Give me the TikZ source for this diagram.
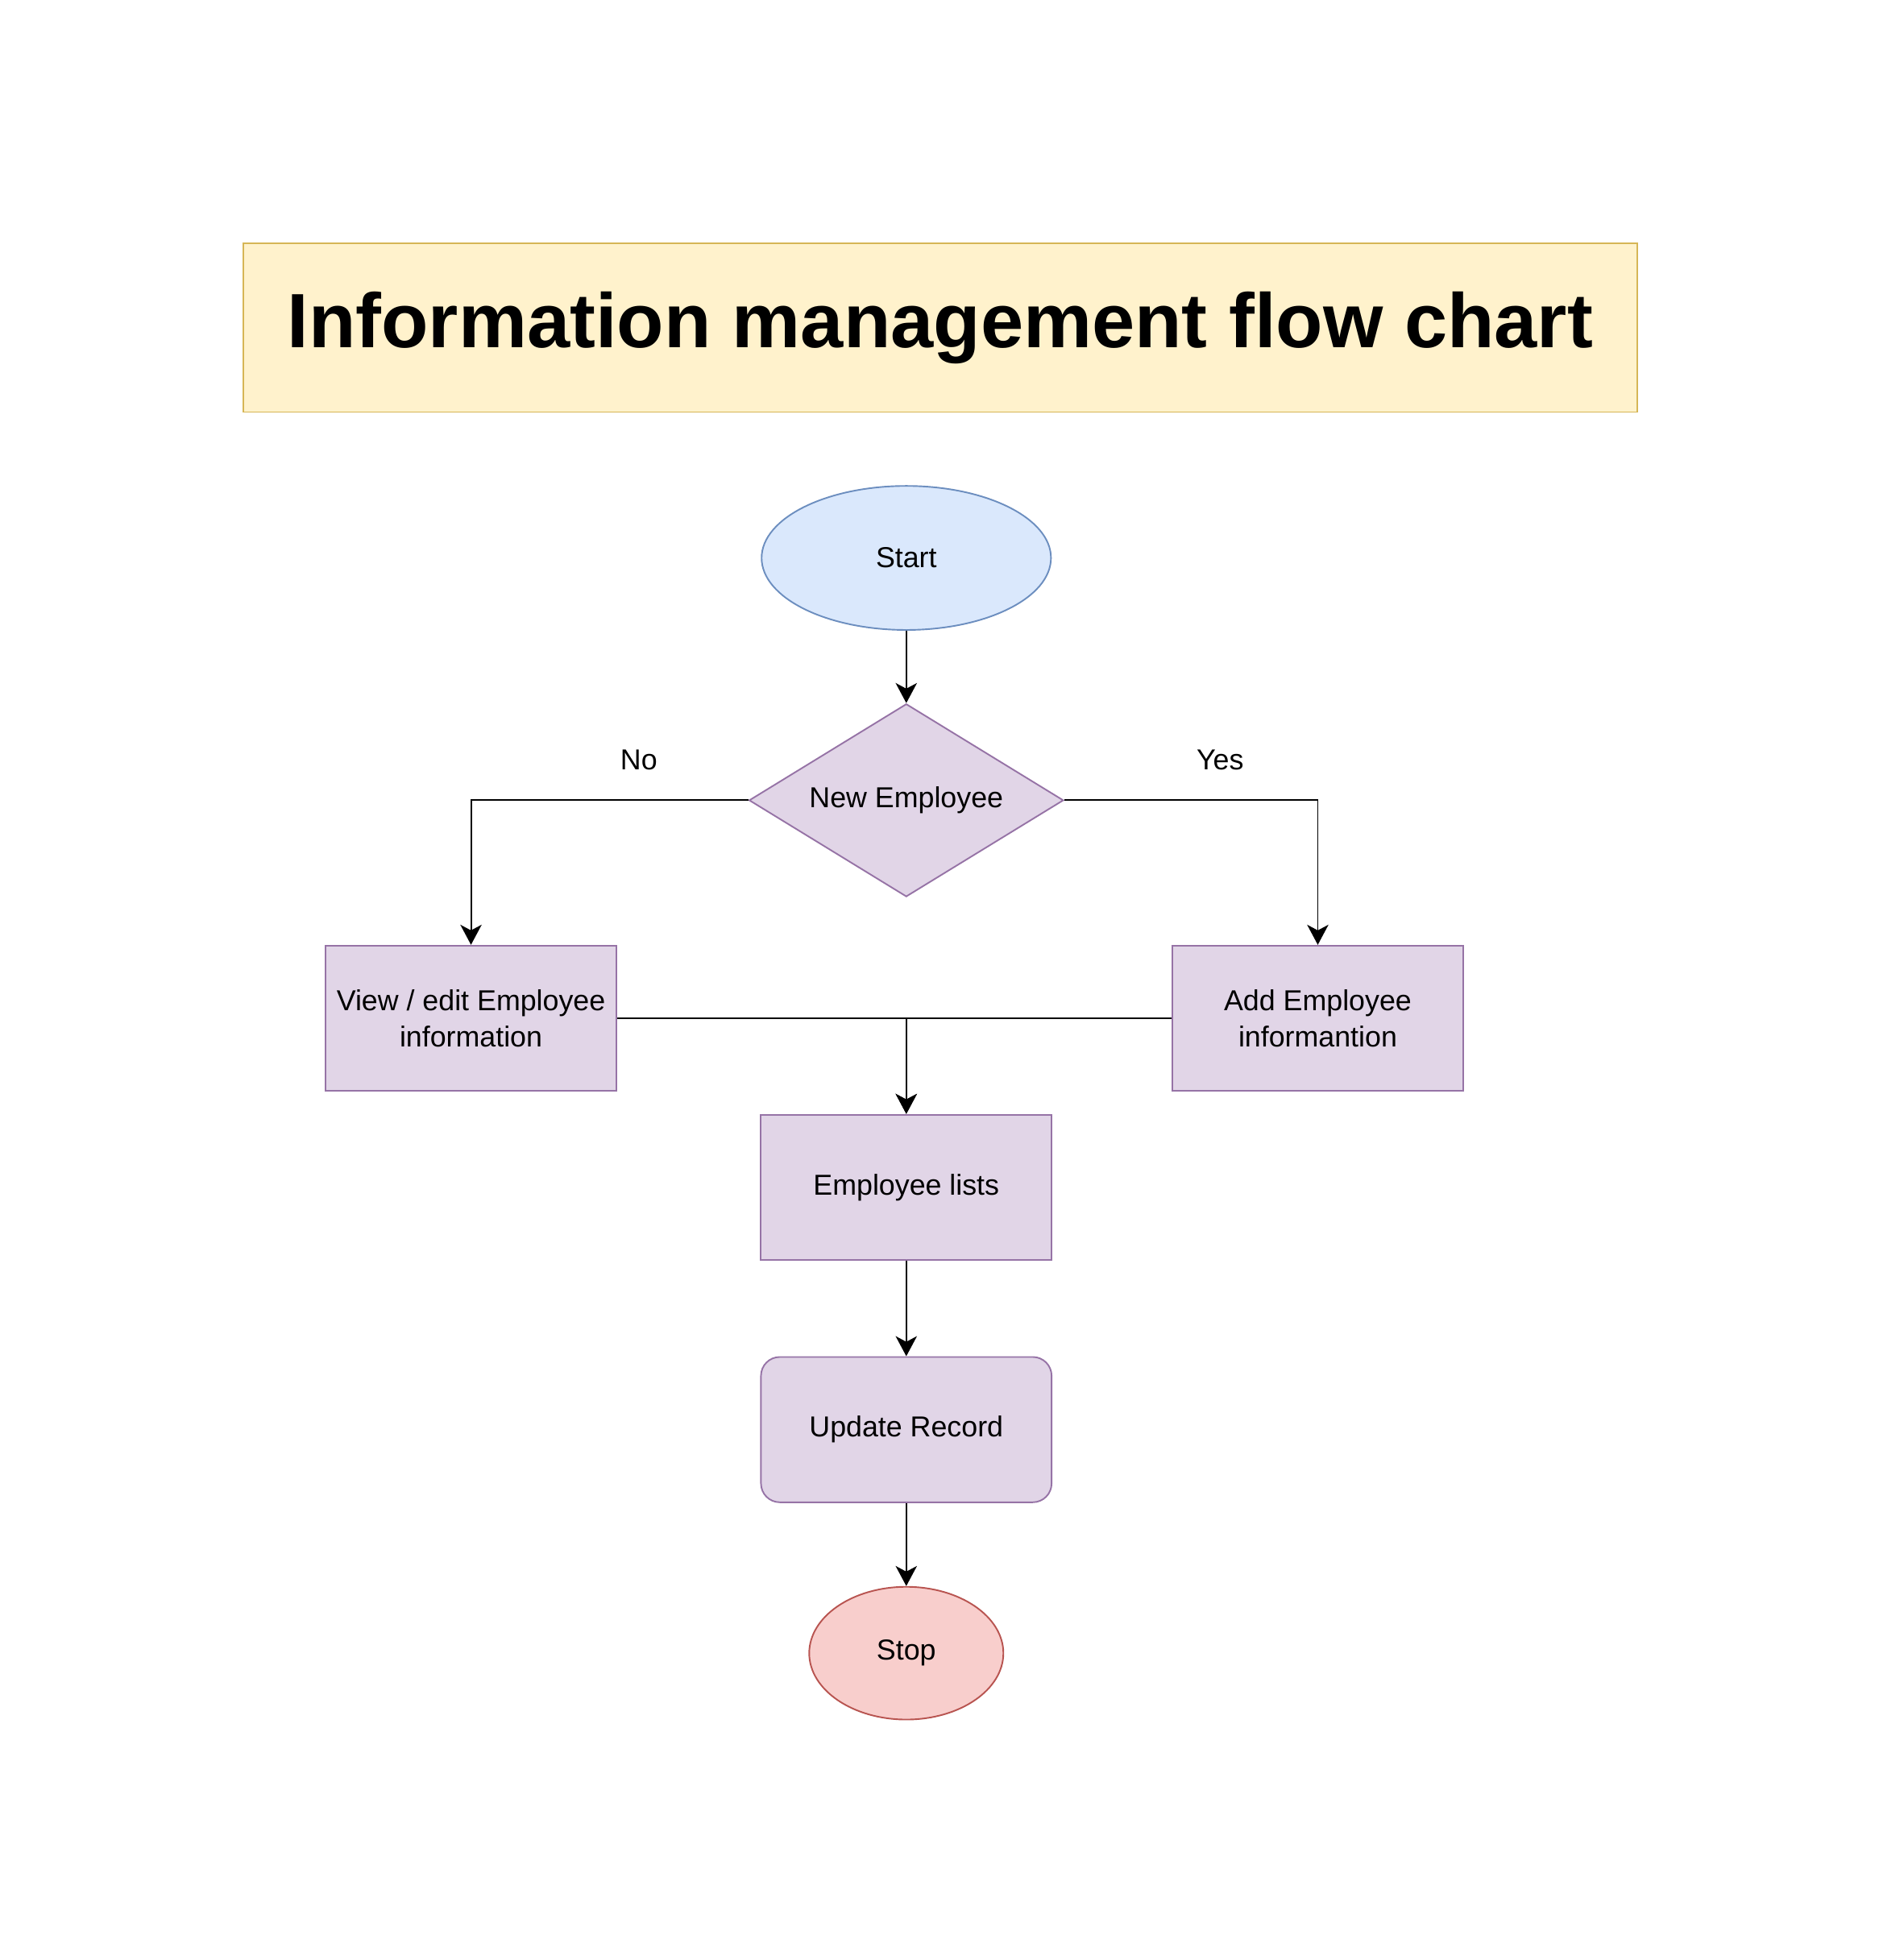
\documentclass[tikz,border=0pt]{standalone}
\usepackage{fontspec}
\setmainfont{Liberation Sans}
\usetikzlibrary{arrows.meta, shapes.geometric, positioning}

\definecolor{blueFill}{HTML}{DAE8FC}
\definecolor{blueLine}{HTML}{6C8EBF}
\definecolor{lilacFill}{HTML}{E1D5E7}
\definecolor{lilacLine}{HTML}{9673A6}
\definecolor{redFill}{HTML}{F8CECC}
\definecolor{redLine}{HTML}{B85450}
\definecolor{sandFill}{HTML}{FFF2CC}
\definecolor{sandLine}{HTML}{D6B656}

\begin{document}
\begin{tikzpicture}[
            > = {Stealth[length=3.2mm, width=3.4mm, inset=0.9mm]}, % arrow head style
            on grid, % distances between centres
            line width = 0.7pt % line style
        ]

        \tikzstyle{every node}=[
            font = \fontsize{13.1}{16.5}\selectfont,
            align = center,
            inner sep = 0pt
        ]
        \tikzstyle{box}=[
            draw = lilacLine,
            fill = lilacFill,
            rectangle,
            minimum width = 4.64cm,
            minimum height = 2.32cm
        ]
        \tikzstyle{terminal}=[
            ellipse
        ]

        \useasboundingbox (0,0) rectangle (30,-31.3);

        \node[draw = sandLine, fill = sandFill, minimum width = 22.26cm, minimum height = 2.7cm,
              font = \fontsize{35}{42}\selectfont\bfseries] (title) at (15.01,-5.23) {Information management flow chart};
        \node[terminal, draw = blueLine, fill = blueFill, minimum width = 4.62cm, minimum height = 2.3cm] (start) at (14.47,-8.91) {Start};
        \node[diamond, aspect = 1.63, draw = lilacLine, fill = lilacFill, minimum width = 5.02cm, minimum height = 3.08cm] (newemp) [below = 3.87cm of start] {New Employee};
        \node[box] (view) [below left = 3.48cm and 6.95cm of newemp] {View / edit Employee\\information};
        \node[box] (add) [below right = 3.48cm and 6.57cm of newemp] {Add Employee\\informantion};
        \node[box] (lists) [below = 6.18cm of newemp] {Employee lists};
        \node[box, rounded corners = 0.3cm] (update) [below = 3.87cm of lists] {Update Record};
        \node[terminal, draw = redLine, fill = redFill, minimum width = 3.1cm, minimum height = 2.12cm] (stop) [below = 3.57cm of update] {Stop};

        \node (no) [above left = 0.64cm and 4.27cm of newemp] {No};
        \node (yes) [above right = 0.64cm and 5.01cm of newemp] {Yes};

        \draw[->] (start) -- (newemp);
        \draw[->] (newemp.west) -| (view);
        \draw[->] (newemp.east) -| (add);
        \draw[->] (view.east) -| (lists);
        \draw[->] (add.west) -| (lists);
        \draw[->] (lists) -- (update);
        \draw[->] (update) -- (stop);
    \end{tikzpicture}
\end{document}
